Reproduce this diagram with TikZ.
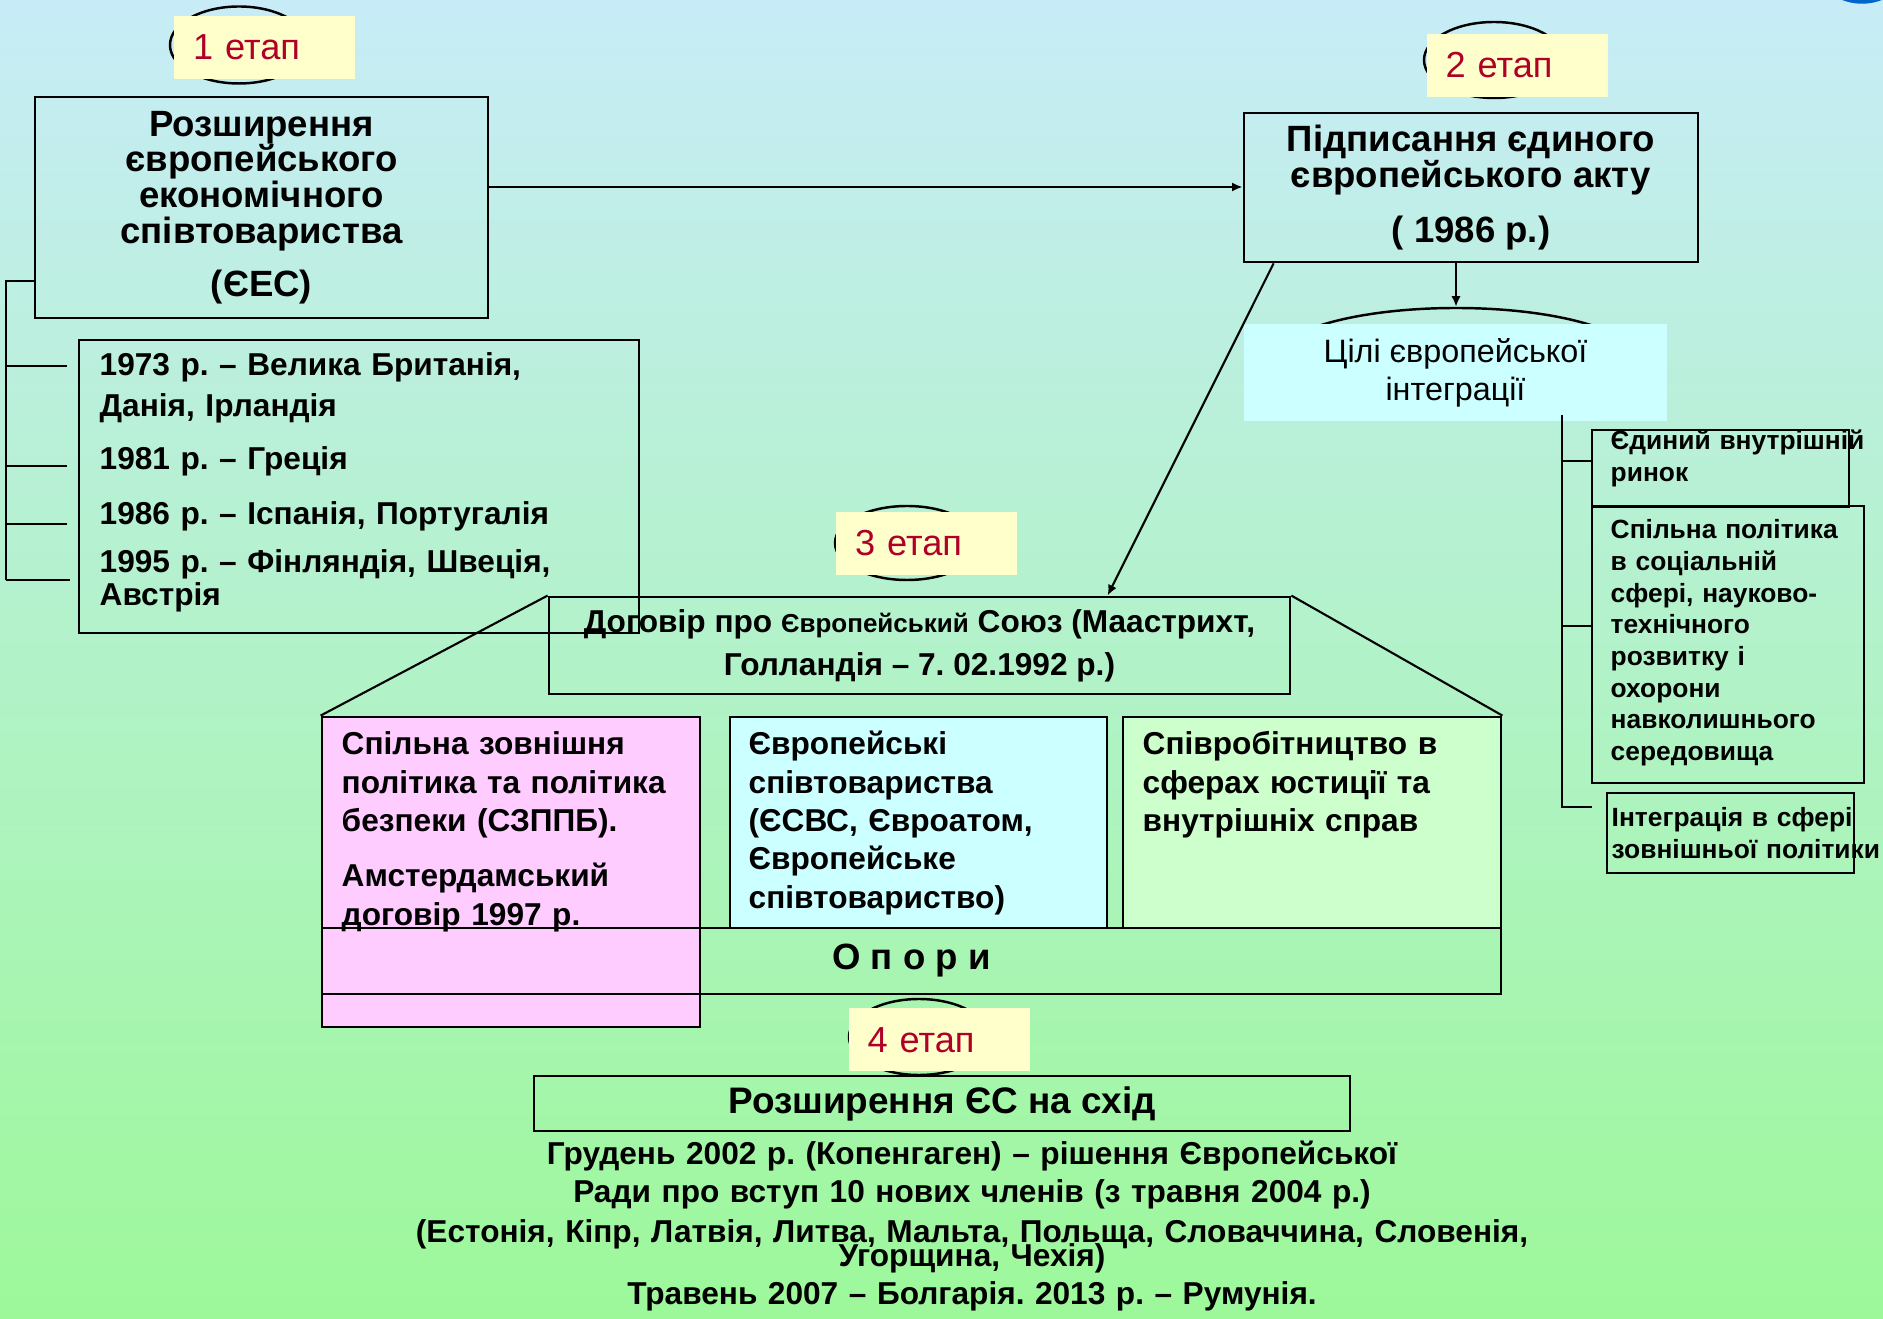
\documentclass[tikz,border=0pt]{standalone}
\usepackage{fontspec}
\setmainfont{Liberation Sans}
\usetikzlibrary{shapes.geometric,arrows.meta}

\definecolor{bgtop}{RGB}{199,236,247}
\definecolor{bgbot}{RGB}{157,248,154}
\definecolor{etapfill}{RGB}{255,255,204}
\definecolor{etapred}{RGB}{176,0,40}
\definecolor{aimfill}{RGB}{204,255,255}
\definecolor{pinkfill}{RGB}{255,204,255}
\definecolor{cyanfill}{RGB}{204,255,255}
\definecolor{greenfill}{RGB}{204,255,204}
\definecolor{arcblue}{RGB}{0,102,204}

\tikzstyle{box}=[draw, line width=0.8pt, inner sep=0pt]
\tikzstyle{ring}=[draw, ellipse, line width=0.7pt, inner sep=0pt]
\tikzstyle{etap}=[fill=etapfill, text=etapred, inner sep=0pt, minimum width=18.1mm, minimum height=6.3mm, text width=14.3mm, align=left, font=\fontsize{10.3}{12}\selectfont]
\tikzstyle{line}=[line width=0.6pt]
\tikzstyle{arrow}=[line width=0.6pt, -{Latex[length=3pt,width=2.6pt]}]
\tikzstyle{big}=[align=center, font=\bfseries\fontsize{10.4}{10.2}\selectfont]
\tikzstyle{item}=[inner sep=0pt, anchor=base west, text width=60mm, align=left, font=\bfseries\fontsize{9}{11.4}\selectfont]
\tikzstyle{pillar}=[inner sep=0pt, anchor=base west, text width=36mm, align=left, font=\bfseries\fontsize{9}{10.9}\selectfont]
\tikzstyle{goal}=[inner sep=0pt, anchor=base west, text width=30mm, align=left, font=\bfseries\fontsize{7.5}{9}\selectfont]

\begin{document}
\frenchspacing
\begin{tikzpicture}[x=0.1mm, y=-0.1mm]
      \useasboundingbox (0,0) rectangle (1883,1319);
      \clip (0,0) rectangle (1883,1319);
      \shade[top color=bgtop, bottom color=bgbot] (0,0) rectangle (1883,1319);
      \draw[arcblue, line width=1pt] (1862,-51) circle [radius=5.3mm];

      \node[ring, minimum width=13.8mm, minimum height=7.7mm] (ring1) at (239,45) {};
      \node[ring, minimum width=14mm, minimum height=7.6mm] (ring2) at (1494,60) {};
      \node[ring, minimum width=14.4mm, minimum height=7.4mm] (ring3) at (907,543) {};
      \node[ring, minimum width=14mm, minimum height=7.6mm] (ring4) at (919,1037) {};
      \node[ring, minimum width=36.4mm, minimum height=10.4mm] (ringaim) at (1456,360) {};

      \node[etap] (s1) at (264.5,47.5) {1 етап};
      \node[etap] (s2) at (1517,65.5) {2 етап};
      \node[etap] (s3) at (926.5,543.5) {3 етап};
      \node[etap] (s4) at (939,1040) {4 етап};

      \node[box, big, minimum width=45.3mm, minimum height=22.1mm] (eec) at (261.5,207.5)
        {Розширення\\європейського\\економічного\\співтовариства\\[1.7mm](ЄЕС)};
      \node[box, big, minimum width=45.4mm, minimum height=14.9mm] (sea) at (1471,187.5)
        {Підписання єдиного\\європейського акту\\[1.9mm]( 1986 р.)};
      \node[fill=aimfill, inner sep=0pt, minimum width=42.3mm, minimum height=9.7mm, align=center,
        font=\fontsize{9.2}{10.8}\selectfont] (aim) at (1455.5,372.5) {Цілі європейської\\інтеграції};

      \node[box, minimum width=25.7mm, minimum height=7.7mm] (g1) at (1720.5,468.5) {};
      \node[box, minimum width=27.2mm, minimum height=27.7mm] (g2) at (1728,644.5) {};
      \node[box, minimum width=24.7mm, minimum height=8mm] (g3) at (1730.5,833) {};
      \node[goal] (g1t) at (1610,450) {Єдиний внутрішній\\ринок};
      \node[goal] (g2t) at (1610,539) {Спільна політика\\в соціальній\\сфері, науково-\\технічного\\розвитку і\\охорони\\навколишнього\\середовища};
      \node[goal] (g3t) at (1611,827) {Інтеграція в сфері\\зовнішньої політики};

      \node[box, align=center, minimum width=74.1mm, minimum height=9.7mm,
        font=\bfseries\fontsize{9}{12.2}\selectfont] (maas) at (919.5,645.5)
        {Договір про {\fontsize{7.4}{8}\selectfont Європейський} Союз (Маастрихт,\\Голландія – 7. 02.1992 р.)};

      \node[box, fill=pinkfill, minimum width=37.8mm, minimum height=31mm] (pink) at (511,872) {};
      \node[box, fill=cyanfill, minimum width=37.7mm, minimum height=21.1mm] (cyan) at (918.5,822.5) {};
      \node[box, fill=greenfill, minimum width=37.8mm, minimum height=21.1mm] (green) at (1312,822.5) {};
      \node[box, minimum width=117.9mm, minimum height=6.6mm,
        font=\bfseries\fontsize{10.4}{12}\selectfont] (band) at (911.5,961) {О п о р и};
      \node[pillar] (pinkt) at (341,755) {Спільна зовнішня\\політика та політика\\безпеки (СЗППБ).\\[1.7mm]Амстердамський\\договір 1997 р.};
      \node[pillar] (cyant) at (748,755) {Європейські\\співтовариства\\(ЄСВС, Євроатом,\\Європейське\\співтовариство)};
      \node[pillar] (greent) at (1142,755) {Співробітництво в\\сферах юстиції та\\внутрішніх справ};

      \node[box, minimum width=56mm, minimum height=29.3mm] (list) at (359,486.5) {};
      \node[item] (t73) at (99,376) {1973 р. – Велика Британія,\\Данія, Ірландія};
      \node[item] (t81) at (99,470) {1981 р. – Греція};
      \node[item] (t86) at (99,525) {1986 р. – Іспанія, Португалія};
      \node[item, font=\bfseries\fontsize{9}{8.3}\selectfont] (t95) at (99,573) {1995 р. – Фінляндія, Швеція,\\Австрія};

      \node[box, minimum width=81.6mm, minimum height=5.5mm,
        font=\bfseries\fontsize{10.5}{12}\selectfont] (east) at (942,1103.5) {Розширення ЄС на схід};
      \node[inner sep=0pt, anchor=base, text width=120mm, align=center,
        font=\bfseries\fontsize{9}{10.8}\selectfont] (info) at (972,1165)
        {Грудень 2002 р. (Копенгаген) – рішення Європейської\\Ради про вступ 10 нових членів (з травня 2004 р.)\\[0.2mm](Естонія, Кіпр, Латвія, Литва, Мальта, Польща, Словаччина, Словенія,\\[-1.4mm]Угорщина, Чехія)\\Травень 2007 – Болгарія. 2013 р. – Румунія.};

      \coordinate (ltop) at (6,281);
      \coordinate (lbot) at (6,580);
      \coordinate (l1) at (67,366);
      \coordinate (l2) at (67,466);
      \coordinate (l3) at (67,524);
      \coordinate (l4) at (70,580);
      \coordinate (rtop) at (1562,415);
      \coordinate (r1) at (1592,461);
      \coordinate (r2) at (1592,626);
      \coordinate (r3) at (1592,807);

      \draw[line] (eec.west |- ltop) -- (ltop) -- (lbot);
      \draw[line] (ltop |- l1) to (l1);
      \draw[line] (ltop |- l2) to (l2);
      \draw[line] (ltop |- l3) to (l3);
      \draw[line] (ltop |- l4) to (l4);
      \draw[line] (rtop) -- (rtop |- r3) -- (r3);
      \draw[line] (rtop |- r1) to (r1);
      \draw[line] (rtop |- r2) to (r2);

      \draw[line] (maas.north west) to (pink.north west);
      \draw[line] (maas.north east) to (green.north east);

      \draw[arrow] (eec.east |- 0,187) to (sea.west |- 0,187);
      \draw[arrow] (ringaim.north |- sea.south) to (ringaim.north);
      \draw[arrow] ([shift={(31,0)}]sea.south west) to ([shift={(560,0)}]maas.north west);
    \end{tikzpicture}
\end{document}
